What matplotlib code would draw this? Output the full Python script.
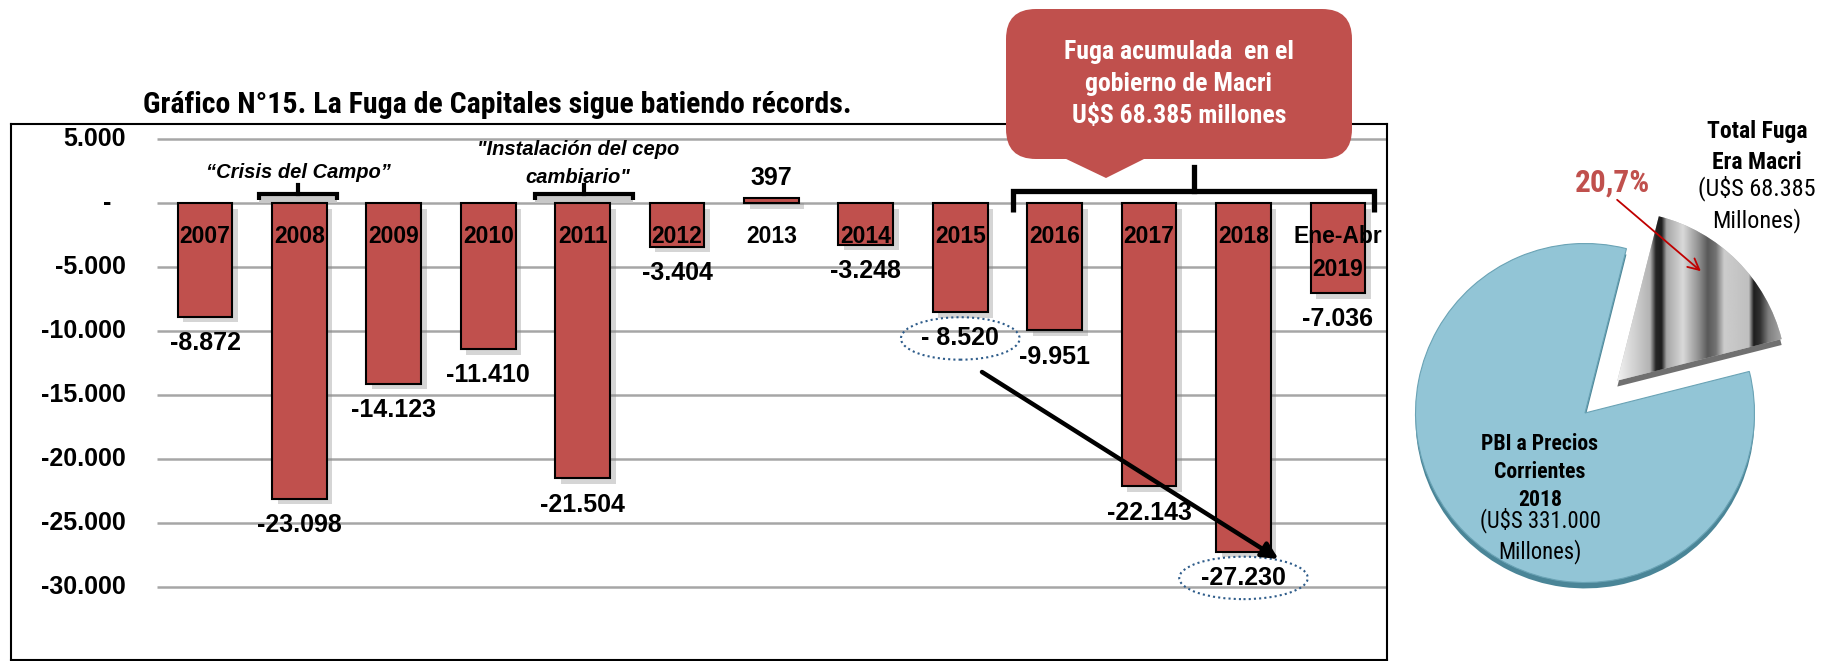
import numpy as np
import matplotlib
matplotlib.use("Agg")
import matplotlib.pyplot as plt
from matplotlib import patheffects as pe
from matplotlib.patches import FancyBboxPatch, Polygon, Rectangle

# data (millones de U$S)
categories = ["2007", "2008", "2009", "2010", "2011", "2012", "2013",
              "2014", "2015", "2016", "2017", "2018", "Ene-Abr\n2019"]
fuga = [-8872, -23098, -14123, -11410, -21504, -3404, 397,
        -3248, -8520, -9951, -22143, -27230, -7036]
y_ticks = [5000, 0, -5000, -10000, -15000, -20000, -25000, -30000]

pie_values = [68385, 331000]   # Total fuga era Macri, PBI 2018
fuga_pct = "20,7%"

RED = "#C0504D"
NARROW = ["Liberation Sans Narrow", "Roboto Condensed", "Open Sans Condensed",
          "Liberation Sans", "DejaVu Sans"]
SANS = ["Liberation Sans", "DejaVu Sans"]
cond = dict(family=NARROW, stretch="condensed")

W, H = 1833, 661
fig = plt.figure(figsize=(W / 100, H / 100), dpi=100)


def fmt(v):
    s = f"{abs(v):,}".replace(",", ".")
    return ("-" if v < 0 else "") + s


# ---- bar chart --------------------------------------------------------
ax = fig.add_axes([11 / W, 1 / H, (1387 - 11) / W, (660 - 124) / H])
ax.set_xlim(-2.055, 12.52)
ax.set_ylim(-35703, 6172)
ax.set_xticks([])
ax.set_yticks([])
for s in ax.spines.values():
    s.set_linewidth(1.5)
    s.set_color("black")

ax.hlines(y_ticks, -0.508, 12.52, colors="#a6a6a6", lw=1.8, zorder=1)
for t in y_ticks:
    lab = fmt(t) if t != 0 else "-  "
    ax.text(-0.84, t, lab, ha="right", va="center", fontsize=18,
            weight="bold", family=SANS)

x = np.arange(len(categories))
shadow = [pe.SimplePatchShadow(offset=(4, -4), shadow_rgbFace="#888888", alpha=0.35),
          pe.Normal()]
bars = ax.bar(x, fuga, width=0.58, color=RED, edgecolor="black", lw=1.5,
              zorder=3)
for b in bars:
    b.set_path_effects(shadow)

for i, cat in enumerate(categories):
    ax.text(i, -1719, cat, ha="center", va="top", fontsize=16.5,
            weight="bold", family=SANS, linespacing=1.55, zorder=5)

for i, v in enumerate(fuga):
    lab = fmt(v)
    kw = {}
    if i == 8:
        lab = lab.replace("-", "- ")
    if i in (8, 11):
        kw["bbox"] = dict(boxstyle="ellipse,pad=0.12", fc="none",
                          ec="#2E5C8A", ls=(0, (1, 1.5)), lw=1.5)
    ax.annotate(lab, (i, v), xytext=(0, -19 if v < 0 else 14),
                textcoords="offset points", ha="center", va="center",
                fontsize=18, weight="bold", family=SANS, zorder=5, **kw)

# arrow from 2015 to 2018
ax.annotate("", xy=(11.37, -27812), xytext=(8.23, -13203),
            arrowprops=dict(arrowstyle="-|>", color="black", lw=3.2,
                            mutation_scale=24, shrinkA=0, shrinkB=0),
            zorder=6)


def bracket(x0, x1, xc, y, ydown, yup, lw, fill=False):
    if fill:
        ax.add_patch(Rectangle((x0, 0), x1 - x0, y, fc="#c8c8c8", ec="none",
                               zorder=2))
    ax.plot([x0, x0, x1, x1], [ydown, y, y, ydown], color="black", lw=lw,
            solid_capstyle="butt", solid_joinstyle="miter", zorder=4)
    ax.plot([xc, xc], [y, yup], color="black", lw=lw, zorder=4)


bracket(0.57, 1.40, 0.99, 703, 234, 1406, 3, fill=True)
bracket(3.50, 4.53, 4.01, 703, 234, 1406, 3, fill=True)
bracket(8.56, 12.38, 10.48, 938, -703, 2813, 3.8)

ax.text(0.99, 2422, "\u201cCrisis del Campo\u201d", ha="center", va="center",
        fontsize=14.5, weight="bold", style="italic", family=SANS)
ax.text(3.95, 3086, "\"Instalación del cepo\ncambiario\"", ha="center",
        va="center", fontsize=14.5, weight="bold", style="italic",
        family=SANS, linespacing=1.65)

# ---- pie --------------------------------------------------------------
pax = fig.add_axes([(1585 - 200) / W, (H - 413 - 200) / H, 400 / W, 400 / H])
start = 14.2
pax.pie(pie_values, startangle=start, explode=[0.27, 0],
        colors=["#707070", "#4a8597"], center=(0, -0.035),
        wedgeprops=dict(lw=0))
wedges, _ = pax.pie(pie_values, startangle=start, explode=[0.27, 0],
                    colors=["#bbbbbb", "#92C5D6"],
                    wedgeprops=dict(lw=0.8, ec="#6aa3b5"))
wedges[0].set_edgecolor("none")
prof_x = [0, 0.2, 0.235, 0.27, 0.30, 0.40, 0.50, 0.55, 0.60, 0.65, 0.80,
          0.83, 0.87, 0.92, 1.0]
prof_v = [0.95, 0.7, 0.15, 0.12, 0.65, 0.85, 0.55, 0.35, 0.45, 0.8, 0.75,
          0.12, 0.2, 0.5, 0.65]
stripes = np.interp(np.linspace(0, 1, 400), prof_x, prof_v)[None, :]
im = pax.imshow(stripes, cmap="gray", vmin=0, vmax=1, aspect="auto",
                extent=(0.19, 1.16, 0.15, 1.2), zorder=3)
im.set_clip_path(wedges[0])
pax.set_xlim(-1.18, 1.18)
pax.set_ylim(-1.18, 1.18)
pax.axis("off")

# ---- overlay (title, callout, pie texts) -------------------------------
ov = fig.add_axes([0, 0, 1, 1], zorder=5)
ov.set_xlim(0, W)
ov.set_ylim(H, 0)
ov.axis("off")
ov.patch.set_alpha(0)

ov.text(143, 105, "Gráfico N°15. La Fuga de Capitales sigue batiendo récords.",
        ha="left", va="center", fontsize=21.5, weight="bold", **cond)

ov.add_patch(FancyBboxPatch((1006, 9), 346, 150,
                            boxstyle="round,pad=0,rounding_size=30",
                            fc=RED, ec="none"))
ov.add_patch(Polygon([(1062, 157), (1148, 157), (1106, 178)], closed=True,
                     fc=RED, ec="none"))
ov.text(1179, 84, "Fuga acumulada  en el\ngobierno de Macri\nU$S 68.385 millones",
        color="white", ha="center", va="center", fontsize=18.5, weight="bold",
        linespacing=1.4, **cond)

ov.text(1757, 147, "Total Fuga\nEra Macri", ha="center", va="center",
        fontsize=17, weight="bold", linespacing=1.4, **cond)
ov.text(1757, 204, "(U$S 68.385\nMillones)", ha="center", va="center",
        fontsize=17.5, linespacing=1.35, **cond)
ov.text(1613, 183, fuga_pct, ha="center", va="center", fontsize=22.5,
        weight="bold", color=RED, **cond)
ov.annotate("", xy=(1703, 273), xytext=(1615, 198),
            arrowprops=dict(arrowstyle="->", color="#C00000", lw=1.3,
                            mutation_scale=20))
ov.text(1540, 472, "PBI a Precios\nCorrientes\n2018", ha="center",
        va="center", fontsize=15.7, weight="bold", linespacing=1.35, **cond)
ov.text(1540, 536, "(U$S 331.000\nMillones)", ha="center", va="center",
        fontsize=16.3, linespacing=1.3, **cond)

fig.savefig("out.png", dpi=100)
